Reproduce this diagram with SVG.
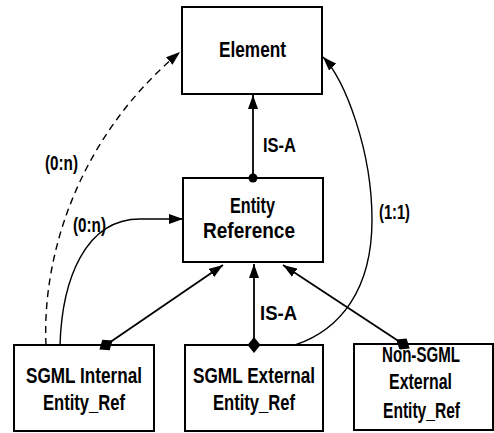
<svg xmlns="http://www.w3.org/2000/svg" width="494" height="433" viewBox="0 0 494 433">
  <style>
    .box { fill: #fff; stroke: #000; stroke-width: 2; }
    .lbl { font-family: "Liberation Sans", Arial, sans-serif; font-weight: bold; font-size: 21.5px; fill: #000; }
    .tag { font-family: "Liberation Sans", Arial, sans-serif; font-weight: bold; font-size: 19.5px; fill: #000; }
    .link { fill: none; stroke: #000; stroke-width: 1.8; }
    .curve { fill: none; stroke: #000; stroke-width: 1.4; }
    .dash { stroke-dasharray: 7 5; }
  </style>
  <defs>
    <marker id="arrow" markerUnits="userSpaceOnUse" markerWidth="15" markerHeight="10" refX="14" refY="5" orient="auto">
      <path d="M0,0 L14,5 L0,10 z" fill="#000"/>
    </marker>
    <marker id="diamond" markerUnits="userSpaceOnUse" markerWidth="18" markerHeight="14" refX="8" refY="6.5" orient="auto">
      <path d="M0,6.5 L8,0 L16,6.5 L8,13 z" fill="#000"/>
    </marker>
  </defs>

  <g id="element">
    <rect class="box" x="182" y="7" width="140" height="87"/>
    <text class="lbl" x="219" y="57" textLength="67" lengthAdjust="spacingAndGlyphs">Element</text>
  </g>

  <g id="entity-reference">
    <rect class="box" x="183" y="178" width="140" height="84"/>
    <text class="lbl" x="230" y="213" textLength="45" lengthAdjust="spacingAndGlyphs">Entity</text>
    <text class="lbl" x="203" y="238" textLength="92" lengthAdjust="spacingAndGlyphs">Reference</text>
  </g>

  <g id="sgml-internal">
    <rect class="box" x="14" y="345" width="140" height="86"/>
    <text class="lbl" x="26" y="383" textLength="116" lengthAdjust="spacingAndGlyphs">SGML Internal</text>
    <text class="lbl" x="43" y="410" textLength="82" lengthAdjust="spacingAndGlyphs">Entity_Ref</text>
  </g>

  <g id="sgml-external">
    <rect class="box" x="185" y="345" width="138" height="86"/>
    <text class="lbl" x="193" y="383" textLength="122" lengthAdjust="spacingAndGlyphs">SGML External</text>
    <text class="lbl" x="213" y="410" textLength="82" lengthAdjust="spacingAndGlyphs">Entity_Ref</text>
  </g>

  <g id="non-sgml-external">
    <rect class="box" x="354" y="344" width="139" height="86"/>
    <text class="lbl" x="382" y="362" textLength="78" lengthAdjust="spacingAndGlyphs">Non-SGML</text>
    <text class="lbl" x="389" y="389" textLength="63" lengthAdjust="spacingAndGlyphs">External</text>
    <text class="lbl" x="383" y="418" textLength="77" lengthAdjust="spacingAndGlyphs">Entity_Ref</text>
  </g>

  <g id="connectors">
    <!-- IS-A: Entity Reference to Element -->
    <line class="link" x1="253" y1="178" x2="253" y2="95" marker-end="url(#arrow)"/>
    <circle cx="253" cy="178" r="4.5" fill="#000"/>
    <!-- IS-A: subtypes to Entity Reference -->
    <line class="link" x1="106" y1="345" x2="223" y2="265" marker-start="url(#diamond)" marker-end="url(#arrow)"/>
    <line class="link" x1="254" y1="345" x2="254" y2="264" marker-start="url(#diamond)" marker-end="url(#arrow)"/>
    <line class="link" x1="403" y1="344" x2="283" y2="265" marker-start="url(#diamond)" marker-end="url(#arrow)"/>
    <!-- (0:n) dashed: SGML Internal to Element -->
    <path class="curve dash" d="M46,345 C42,260 75,140 180,52" marker-end="url(#arrow)"/>
    <!-- (0:n): SGML Internal to Entity Reference -->
    <path class="curve" d="M60,345 C62,280 85,219 140,219 L183,219" marker-end="url(#arrow)"/>
    <!-- (1:1): SGML External to Element -->
    <path class="curve" d="M295,345 C340,330 372,290 372,220 C372,150 345,80 323,57" marker-end="url(#arrow)"/>

    <text class="tag" x="45" y="170" textLength="33" lengthAdjust="spacingAndGlyphs">(0:n)</text>
    <text class="tag" x="73" y="232" textLength="33" lengthAdjust="spacingAndGlyphs">(0:n)</text>
    <text class="tag" x="379" y="219" textLength="31" lengthAdjust="spacingAndGlyphs">(1:1)</text>
    <text class="tag" x="263" y="152" textLength="33" lengthAdjust="spacingAndGlyphs">IS-A</text>
    <text class="tag" x="260" y="320" textLength="37" lengthAdjust="spacingAndGlyphs">IS-A</text>
  </g>
</svg>
